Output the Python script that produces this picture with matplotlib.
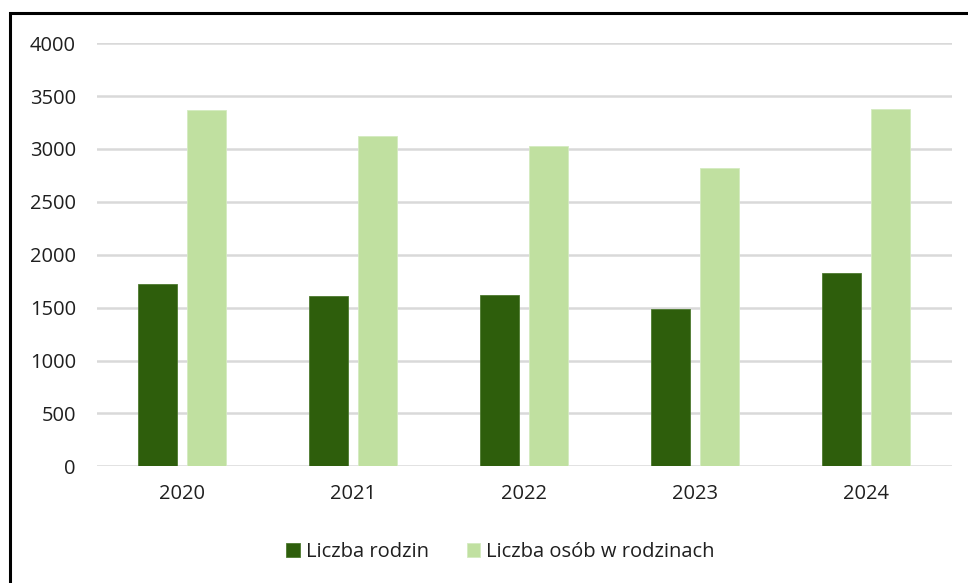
import matplotlib.pyplot as plt
from matplotlib.patches import Rectangle
import numpy as np

plt.rcParams['font.family'] = ['Open Sans', 'DejaVu Sans']

lata = ['2020', '2021', '2022', '2023', '2024']
rodziny = [1720, 1607, 1619, 1484, 1824]
osoby = [3365, 3122, 3025, 2817, 3374]

ciemny = '#2E5E0C'
jasny = '#C0E0A0'

fig = plt.figure(figsize=(9.68, 5.83), dpi=100)
ax = fig.add_axes([0.100, 0.200, 0.883, 0.726])

x = np.arange(len(lata))
szer = 0.228
ax.bar(x - 0.143, rodziny, szer, color=ciemny, edgecolor='#4E7A30', linewidth=0.6,
       label='Liczba rodzin', zorder=3)
ax.bar(x + 0.143, osoby, szer, color=jasny, edgecolor='#D4EBC0', linewidth=0.6,
       label='Liczba osób w rodzinach', zorder=3)

ax.set_xlim(-0.5, len(lata) - 0.5)
ax.set_ylim(0, 4000)
ax.set_yticks(range(0, 4001, 500))
ax.set_xticks(x)
ax.set_xticklabels(lata)
ax.yaxis.grid(True, color='#D9D9D9', linewidth=1.8, zorder=0)
ax.set_axisbelow(True)
for s in ax.spines.values():
    s.set_visible(False)
ax.tick_params(axis='both', length=0, labelsize=14.5, colors='#1F1F1F')
ax.tick_params(axis='y', pad=15)
ax.tick_params(axis='x', pad=13)

fig.legend(loc='center', bbox_to_anchor=(0.517, 0.053), ncol=2, frameon=False,
           fontsize=14.5, handlelength=0.65, handleheight=0.65, handletextpad=0.3,
           columnspacing=1.9, labelcolor='#1F1F1F')

# ramka wokół wykresu
fig.add_artist(Rectangle((0.010, -0.2), 1.5, 0.2 + 0.977, transform=fig.transFigure,
                         fill=False, edgecolor='black', linewidth=2.2))

fig.savefig('out.png', dpi=100)
